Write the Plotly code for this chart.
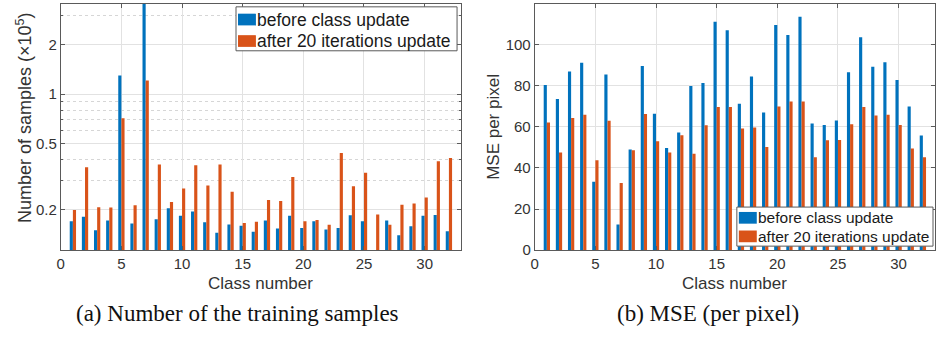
import math
import plotly.graph_objects as go

# ---- data -------------------------------------------------------------
classes = list(range(1, 33))

# number of training samples per class (x 10^5)
samples_before = [0.170, 0.181, 0.150, 0.172, 1.30, 0.165, 3.6, 0.175,
                  0.204, 0.184, 0.195, 0.168, 0.145, 0.163, 0.160, 0.147,
                  0.172, 0.154, 0.184, 0.155, 0.170, 0.152, 0.155, 0.185,
                  0.170, 0.10, 0.172, 0.140, 0.159, 0.184, 0.186, 0.148]
samples_after = [0.199, 0.362, 0.207, 0.206, 0.716, 0.213, 1.21, 0.376,
                 0.223, 0.269, 0.372, 0.280, 0.376, 0.257, 0.166, 0.169,
                 0.229, 0.226, 0.316, 0.170, 0.173, 0.162, 0.441, 0.277,
                 0.335, 0.187, 0.162, 0.214, 0.218, 0.237, 0.393, 0.411]

# mean squared error per pixel
mse_before = [80.5, 73.7, 87.1, 91.3, 33.3, 85.6, 12.5, 49.0,
              89.7, 66.5, 49.7, 57.3, 80.0, 81.4, 111.3, 107.1,
              71.3, 84.6, 67.0, 109.7, 104.8, 113.7, 61.7, 61.0,
              63.2, 86.7, 103.7, 89.4, 91.6, 82.9, 70.0, 55.8]
mse_after = [62.2, 47.5, 64.4, 66.0, 43.8, 63.0, 32.7, 48.7,
             66.3, 53.0, 47.5, 56.0, 47.0, 60.8, 69.8, 69.7,
             59.2, 59.7, 50.2, 70.0, 72.4, 72.4, 45.2, 53.5,
             53.7, 61.3, 69.8, 65.6, 66.0, 61.0, 49.5, 45.2]

series_names = ["before class update", "after 20 iterations update"]

class_ticks = [0, 5, 10, 15, 20, 25, 30]
sample_ticks = [0.2, 0.5, 1, 2]
sample_tick_text = ["0.2", "0.5", "1", "2"]
sample_minor = [0.3, 0.4, 0.6, 0.7, 0.8, 0.9, 3]
mse_ticks = [0, 20, 40, 60, 80, 100, 120]

captions = ["(a) Number of the training samples", "(b) MSE (per pixel)"]

# ---- styling ----------------------------------------------------------
W, H = 936, 344
BLUE = "#0072BD"
ORANGE = "#D95319"
COLORS = [BLUE, ORANGE]
SANS = "Liberation Sans, Arial, sans-serif"
SERIF = "Liberation Serif, Times New Roman, serif"
TEXT = "#333333"
AXIS = "#5a5a5a"
GRID = "#e2e2e2"
MINOR_GRID = "#d6d6d6"


def fx(p):
    return p / W


def fy(p):
    return 1 - p / H


fig = go.Figure()

# left panel: sample counts on a log axis
for vals, name, col in zip([samples_before, samples_after], series_names, COLORS):
    fig.add_trace(go.Bar(x=classes, y=vals, name=name,
                         marker=dict(color=col, line=dict(width=0)),
                         xaxis="x", yaxis="y", showlegend=False))

# right panel: MSE per pixel
for vals, name, col in zip([mse_before, mse_after], series_names, COLORS):
    fig.add_trace(go.Bar(x=classes, y=vals, name=name,
                         marker=dict(color=col, line=dict(width=0)),
                         xaxis="x2", yaxis="y2", showlegend=False))

ydom = [fy(256), fy(4)]

common_x = dict(range=[0, 33], tickmode="array", tickvals=class_ticks,
                ticks="inside", ticklen=4, tickcolor=AXIS, mirror="ticks",
                showline=True, linecolor=AXIS, linewidth=1,
                showgrid=True, gridcolor=GRID, gridwidth=1, zeroline=False,
                tickfont=dict(family=SANS, size=15, color=TEXT))

fig.update_layout(
    width=W, height=H,
    margin=dict(l=0, r=0, t=0, b=0),
    paper_bgcolor="white", plot_bgcolor="white",
    barmode="group", bargap=0.48, bargroupgap=0.0,
    showlegend=False,
    xaxis=dict(domain=[fx(57), fx(459)], anchor="y", **common_x),
    yaxis=dict(domain=ydom, anchor="x", type="log",
               range=[math.log10(0.114), math.log10(3.52)],
               tickmode="array", tickvals=sample_ticks, ticktext=sample_tick_text,
               ticks="inside", ticklen=4, tickcolor=AXIS, mirror="ticks",
               showline=True, linecolor=AXIS, linewidth=1,
               showgrid=True, gridcolor=GRID, zeroline=False,
               minor=dict(tickmode="array", tickvals=sample_minor, ticks="inside",
                          ticklen=2, tickcolor=AXIS, showgrid=True,
                          gridcolor=MINOR_GRID, griddash="dot", gridwidth=1),
               tickfont=dict(family=SANS, size=15, color=TEXT)),
    xaxis2=dict(domain=[fx(533), fx(935)], anchor="y2", **common_x),
    yaxis2=dict(domain=ydom, anchor="x2", range=[0, 120],
                tickmode="array", tickvals=mse_ticks,
                ticks="inside", ticklen=4, tickcolor=AXIS, mirror="ticks",
                showline=True, linecolor=AXIS, linewidth=1,
                showgrid=True, gridcolor=GRID, zeroline=False,
                tickfont=dict(family=SANS, size=15, color=TEXT)),
)


def paper_text(text, x, y, size, family=SANS, color=TEXT, angle=0, xanchor="center"):
    return dict(text=text, x=fx(x), y=fy(y), xref="paper", yref="paper",
                xanchor=xanchor, yanchor="middle", textangle=angle,
                showarrow=False, font=dict(family=family, size=size, color=color))


annotations = [
    # axis titles
    paper_text("Class number", 258, 290, 17),
    paper_text("Class number", 734, 290, 17),
    paper_text("Number of samples (\u00d710<sup>5</sup>)", 20, 120, 18, angle=-90),
    paper_text("MSE per pixel", 492, 130, 17, angle=-90),
    # panel captions
    paper_text(captions[0], 235, 321, 23, family=SERIF, color="#111111"),
    paper_text(captions[1], 707, 321, 23, family=SERIF, color="#111111"),
]

shapes = []


def add_legend(box, swatch_x, row_y, text_x, sw_h, size):
    """Boxed legend: box=(x0, y0, x1, y1) in pixels, one row per series."""
    x0, y0, x1, y1 = box
    shapes.append(dict(type="rect", xref="paper", yref="paper",
                       x0=fx(x0), x1=fx(x1), y0=fy(y1), y1=fy(y0),
                       fillcolor="white", line=dict(color=AXIS, width=1),
                       layer="above"))
    for name, col, yc in zip(series_names, COLORS, row_y):
        shapes.append(dict(type="rect", xref="paper", yref="paper",
                           x0=fx(swatch_x[0]), x1=fx(swatch_x[1]),
                           y0=fy(yc + sw_h / 2), y1=fy(yc - sw_h / 2),
                           fillcolor=col, line=dict(width=0), layer="above"))
        annotations.append(paper_text(name, text_x, yc, size, color="#1a1a1a",
                                      xanchor="left"))


add_legend((233, 7, 455, 52), (235, 253), (20, 42), 252, 12, 17.5)
add_legend((736, 212, 933, 252), (738, 756), (223, 242), 755, 12, 15.5)

fig.update_layout(annotations=annotations, shapes=shapes)

fig.write_html("out.html")
